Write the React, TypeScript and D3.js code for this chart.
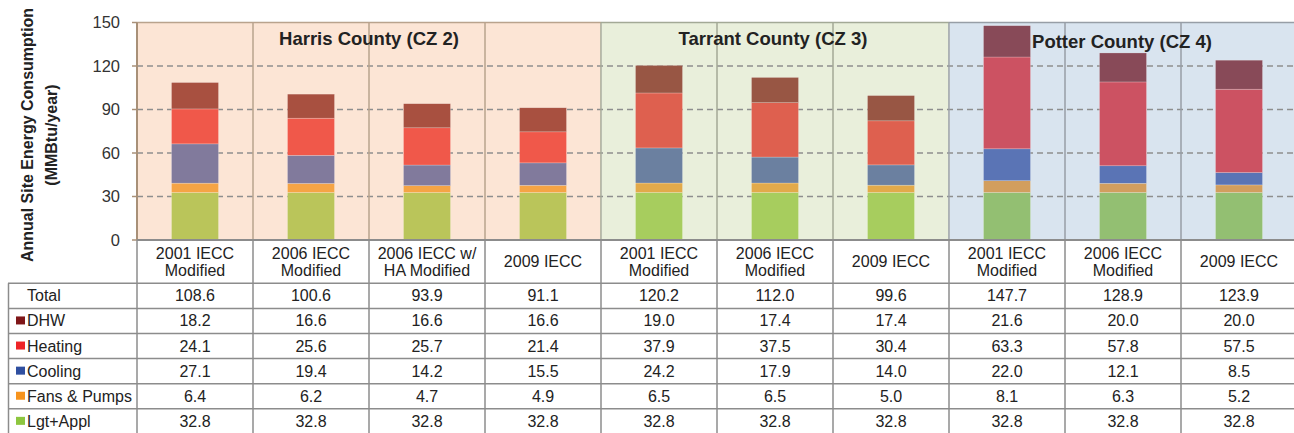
import React from "react";
import * as d3 from "d3";

const categories = [
  "2001 IECC\nModified", "2006 IECC\nModified", "2006 IECC w/\nHA Modified", "2009 IECC",
  "2001 IECC\nModified", "2006 IECC\nModified", "2009 IECC",
  "2001 IECC\nModified", "2006 IECC\nModified", "2009 IECC",
];
const county = [0, 0, 0, 0, 1, 1, 1, 2, 2, 2];
const countyNames = ["Harris County (CZ 2)", "Tarrant County (CZ 3)", "Potter County (CZ 4)"];

const total = [108.6, 100.6, 93.9, 91.1, 120.2, 112.0, 99.6, 147.7, 128.9, 123.9];
const dhw = [18.2, 16.6, 16.6, 16.6, 19.0, 17.4, 17.4, 21.6, 20.0, 20.0];
const heating = [24.1, 25.6, 25.7, 21.4, 37.9, 37.5, 30.4, 63.3, 57.8, 57.5];
const cooling = [27.1, 19.4, 14.2, 15.5, 24.2, 17.9, 14.0, 22.0, 12.1, 8.5];
const fans = [6.4, 6.2, 4.7, 4.9, 6.5, 6.5, 5.0, 8.1, 6.3, 5.2];
const lgt = [32.8, 32.8, 32.8, 32.8, 32.8, 32.8, 32.8, 32.8, 32.8, 32.8];

const seriesNames = ["DHW", "Heating", "Cooling", "Fans & Pumps", "Lgt+Appl"];
const seriesValues = [dhw, heating, cooling, fans, lgt];
const legendColors = ["#7f1618", "#ee2427", "#2f4fa0", "#f7941d", "#8dc63f"];
// bar colours as they look over each county's band
const harrisColors = ["#a85040", "#f0584a", "#817a9c", "#f5a445", "#bac55a"];
const tarrantColors = ["#985644", "#de604f", "#6b80a0", "#e2aa4a", "#a7cd5e"];
const potterColors = ["#884a58", "#cc5262", "#5a74b5", "#d29e5e", "#93bf72"];
const bandColors = ["#fce5d5", "#e9efdb", "#d9e4ef"];
const bandLines = ["#b9a38d", "#a3a996", "#979ea6"];
const yTicks = [0, 30, 60, 90, 120, 150];

const W = 1294, H = 433;
const font = "Arial, 'Liberation Sans', sans-serif";

export default function App() {
  const x = d3.scaleBand<number>().domain(d3.range(categories.length)).range([137, 1297]).padding(0);
  const y = d3.scaleLinear().domain([0, 150]).range([240, 22.5]);
  const bw = x.bandwidth();
  const barW = 47;
  const palettes = [harrisColors, tarrantColors, potterColors];

  // stack bottom-up: Lgt, Fans, Cooling, Heating, DHW
  const order = [4, 3, 2, 1, 0];
  const stacked = categories.map((_, i) => {
    let acc = 0;
    return order.map((s) => {
      const v = seriesValues[s][i];
      const seg = { s, y0: acc, y1: acc + v };
      acc += v;
      return seg;
    });
  });

  const countyRanges = [0, 1, 2].map((c) => {
    const idx = county.map((k, i) => (k === c ? i : -1)).filter((i) => i >= 0);
    return [x(idx[0])!, x(idx[idx.length - 1])! + bw];
  });

  const rowTop = 283.3;
  const rowH = 25.1;
  const rows = ["Total", ...seriesNames];
  const rowData = [total, ...seriesValues];

  return (
    <svg width={W} height={H} style={{ position: "absolute", left: 0, top: 0, fontFamily: font }}>
      <rect width={W} height={H} fill="#fff" />
      {/* county bands */}
      {countyRanges.map(([a, b], c) => (
        <rect key={c} x={a + (c ? 1 : 0)} y={y(150)} width={b - a - (c ? 1 : 0)} height={y(0) - y(150)} fill={bandColors[c]} />
      ))}
      {countyRanges.map(([a, b], c) => (
        <line key={"t" + c} x1={a} x2={b} y1={y(150)} y2={y(150)} stroke={bandLines[c]} strokeWidth={1.5} />
      ))}
      {/* dashed grid */}
      {yTicks.filter((t) => t > 0 && t < 150).map((t) => (
        <line key={t} x1={137} x2={W} y1={y(t)} y2={y(t)} stroke="#8e8e8e" strokeWidth={1.3} strokeDasharray="6,4" />
      ))}
      {/* category separators */}
      {categories.map((_, i) => i > 0 && (
        <line key={"v" + i} x1={x(i)!} x2={x(i)!} y1={y(150)} y2={y(0)} stroke={bandLines[county[i]]} strokeWidth={1.5} />
      ))}
      {/* bars */}
      {stacked.map((segs, i) => (
        <g key={"b" + i}>
          {segs.map((seg) => (
            <rect key={seg.s} x={x(i)! + (bw - barW) / 2} width={barW} y={y(seg.y1)} height={y(seg.y0) - y(seg.y1)}
              fill={palettes[county[i]][seg.s]} stroke="rgba(255,255,255,0.35)" strokeWidth={0.6} />
          ))}
        </g>
      ))}
      {/* county titles */}
      {countyNames.map((n, c) => (
        <text key={n} x={[369, 773, 1122][c]} y={[45, 45, 48][c]} textAnchor="middle" fontWeight="bold" fontSize={18.5} fill="#222">{n}</text>
      ))}
      {/* y axis */}
      <line x1={137} x2={137} y1={y(150)} y2={y(0)} stroke="#a89078" strokeWidth={2} />
      {yTicks.map((t) => (
        <g key={"y" + t}>
          <line x1={132} x2={137} y1={y(t)} y2={y(t)} stroke="#a89078" strokeWidth={1.5} />
          <text x={120} y={y(t) + 5.5} textAnchor="end" fontSize={16.5} fill="#333">{t}</text>
        </g>
      ))}
      <text transform="translate(33,135) rotate(-90)" textAnchor="middle" fontWeight="bold" fontSize={16} fill="#222">Annual Site Energy Consumption</text>
      <text transform="translate(57,135) rotate(-90)" textAnchor="middle" fontWeight="bold" fontSize={16} fill="#222">(MMBtu/year)</text>
      {/* x axis line */}
      <line x1={137} x2={W} y1={y(0)} y2={y(0)} stroke="#8c8c8c" strokeWidth={2} />
      {/* category labels */}
      {categories.map((c, i) => {
        const lines = c.split("\n");
        const cx = x(i)! + bw / 2;
        return lines.map((l, k) => (
          <text key={i + "-" + k} x={cx} y={lines.length === 1 ? 267 : 259 + k * 17} textAnchor="middle" fontSize={16} fill="#222">{l}</text>
        ));
      })}
      {/* table grid */}
      {d3.range(rows.length + 1).map((r) => (
        <line key={"h" + r} x1={8} x2={W} y1={rowTop + r * rowH} y2={rowTop + r * rowH} stroke="#8c8c8c" strokeWidth={1.5} />
      ))}
      <line x1={8.5} x2={8.5} y1={rowTop} y2={H} stroke="#8c8c8c" strokeWidth={1.5} />
      {d3.range(categories.length).map((i) => (
        <line key={"tv" + i} x1={x(i)!} x2={x(i)!} y1={y(0)} y2={H} stroke="#8c8c8c" strokeWidth={1.5} />
      ))}
      {/* table rows */}
      {rows.map((r, k) => {
        const cy = rowTop + k * rowH + rowH / 2 + 5.5;
        return (
          <g key={"r" + r}>
            {k > 0 && <rect x={16} y={cy - 10} width={9} height={8} fill={legendColors[k - 1]} />}
            <text x={27} y={cy} fontSize={16} fill="#222">{r}</text>
            {rowData[k].map((v, i) => (
              <text key={i} x={x(i)! + bw / 2} y={cy} textAnchor="middle" fontSize={16} fill="#222">{v.toFixed(1)}</text>
            ))}
          </g>
        );
      })}
    </svg>
  );
}
